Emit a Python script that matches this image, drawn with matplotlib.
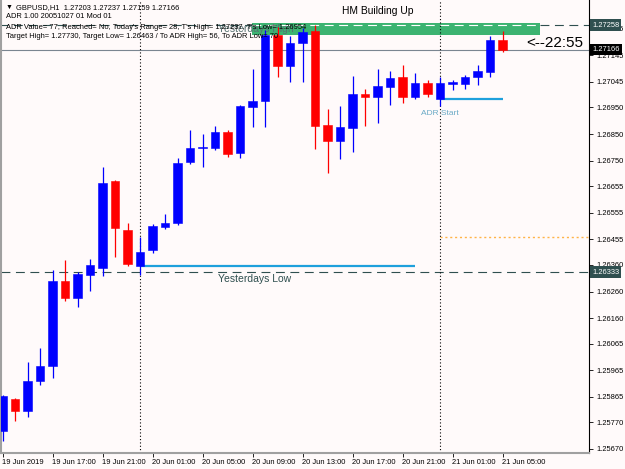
import matplotlib
matplotlib.use('Agg')
import matplotlib.pyplot as plt
from matplotlib.patches import Rectangle

plt.rcParams['font.family'] = ['Liberation Sans', 'DejaVu Sans']

# GBPUSD H1 bars, 19 Jun 13:00 .. 21 Jun 05:00
opens = [1.25736, 1.25856, 1.25811, 1.25924, 1.25980, 1.26299, 1.26235, 1.26321,
         1.26348, 1.26674, 1.26490, 1.26355, 1.26415, 1.26502, 1.26517, 1.26746,
         1.26796, 1.26796, 1.26858, 1.26780, 1.26952, 1.26974, 1.27221, 1.27105,
         1.27190, 1.27236, 1.26884, 1.26824, 1.26874, 1.27000, 1.26988, 1.27027,
         1.27065, 1.26990, 1.27042, 1.26980, 1.27038, 1.27038, 1.27063, 1.27084,
         1.27203]
highs = [1.25871, 1.25860, 1.25995, 1.26048, 1.26340, 1.26378, 1.26333, 1.26381,
         1.26726, 1.26678, 1.26516, 1.26464, 1.26513, 1.26550, 1.26760, 1.26865,
         1.26850, 1.26880, 1.26865, 1.26959, 1.27093, 1.27240, 1.27250, 1.27218,
         1.27246, 1.27258, 1.26943, 1.26955, 1.27068, 1.27018, 1.27093, 1.27086,
         1.27109, 1.27078, 1.27053, 1.27065, 1.27053, 1.27071, 1.27109, 1.27218,
         1.27237]
lows = [1.25699, 1.25774, 1.25789, 1.25909, 1.25935, 1.26224, 1.26201, 1.26261,
        1.26318, 1.26389, 1.26355, 1.26321, 1.26404, 1.26494, 1.26509, 1.26736,
        1.26727, 1.26790, 1.26765, 1.26759, 1.26875, 1.26877, 1.27063, 1.27046,
        1.27046, 1.26793, 1.26703, 1.26755, 1.26784, 1.26880, 1.26890, 1.26959,
        1.26967, 1.26980, 1.26988, 1.26954, 1.27015, 1.27018, 1.27034, 1.27063,
        1.27159]
closes = [1.25868, 1.25811, 1.25924, 1.25980, 1.26299, 1.26235, 1.26325, 1.26359,
          1.26666, 1.26498, 1.26363, 1.26408, 1.26505, 1.26517, 1.26740, 1.26799,
          1.26798, 1.26858, 1.26776, 1.26955, 1.26975, 1.27221, 1.27105, 1.27190,
          1.27231, 1.26881, 1.26824, 1.26877, 1.26999, 1.26988, 1.27030, 1.27059,
          1.26990, 1.27042, 1.27000, 1.27042, 1.27040, 1.27063, 1.27086, 1.27203,
          1.27166]

time_labels = ['19 Jun 2019', '19 Jun 17:00', '19 Jun 21:00', '20 Jun 01:00',
               '20 Jun 05:00', '20 Jun 09:00', '20 Jun 13:00', '20 Jun 17:00',
               '20 Jun 21:00', '21 Jun 01:00', '21 Jun 05:00']
price_ticks = [1.27245, 1.27145, 1.27045, 1.26950, 1.26850, 1.26750, 1.26655,
               1.26555, 1.26455, 1.26360, 1.26260, 1.26160, 1.26065, 1.25965,
               1.25865, 1.25770, 1.25670]

day_starts = [11, 35]          # bars where a new day begins
yest_high = 1.27258
yest_low = 1.26333
bid = 1.27166
zone_low, zone_high = 1.27222, 1.27267
target_low = 1.26463
ylow_line = 1.26357
adr_start = 1.26980

header = ['GBPUSD,H1  1.27203 1.27237 1.27159 1.27166',
          'ADR 1.00 20051027 01 Mod 01',
          "ADR Value= 77, Reached= No, Today's Range= 28, T's High= 1.27237, T's Low= 1.26954",
          'Target High= 1.27730, Target Low= 1.26463 / To ADR High= 56, To ADR Low= 70']

W, H = 625, 469
bg = '#FFFAFA'
fig = plt.figure(figsize=(W / 100, H / 100), dpi=100, facecolor=bg)
ax = fig.add_axes([1 / W, 1 - 453 / H, 588 / W, 453 / H], facecolor=bg)

n = len(opens)
ax.set_xlim(-0.12, 46.92)
ax.set_ylim(1.25655, 1.27352)

# levels
ax.axhspan(zone_low, zone_high, xmin=0, xmax=1, color='none')
ax.add_patch(Rectangle((19.96, zone_low), 43.0 - 19.96, zone_high - zone_low,
                       facecolor='#3CB371', edgecolor='none', zorder=1))
ax.axhline(bid, color='#7a8590', lw=0.8, zorder=1.5)
ax.hlines(yest_high, -1, 19.96, colors='#2F4F4F', linestyles=(0, (8, 5)), lw=0.8, zorder=1.5)
ax.hlines(yest_high, 19.96, 43.0, colors='white', linestyles=(0, (8, 5)), lw=0.8, zorder=1.5)
ax.hlines(yest_high, 43.0, 50, colors='#2F4F4F', linestyles=(0, (8, 5)), lw=0.8, zorder=1.5)
ax.axhline(yest_low, color='#2F4F4F', ls=(0, (8, 5)), lw=0.8, zorder=1.5)
ax.hlines(target_low, day_starts[1], 50, colors='#FFB347', linestyles=(0, (1.5, 2)), lw=1.0, zorder=1.5)
ax.hlines(ylow_line, day_starts[0], 33, colors='#1EA0DC', lw=1.6, zorder=1.5)
ax.hlines(adr_start, day_starts[1], 40, colors='#1EA0DC', lw=1.6, zorder=1.5)
for d in day_starts:
    ax.axvline(d, color='black', ls=(0, (1, 2)), lw=0.8, zorder=1.5)

# candles
bw = 0.66
for i in range(n):
    o, h, l, c = opens[i], highs[i], lows[i], closes[i]
    col = '#0000FF' if c >= o else '#FF0000'
    ax.vlines(i, l, h, colors=col, lw=0.9, zorder=2)
    bot = min(o, c)
    hgt = max(abs(c - o), 0.00005)
    ax.add_patch(Rectangle((i - bw / 2, bot), bw, hgt, facecolor=col,
                           edgecolor=col, lw=0.4, zorder=3))

# texts on chart
ax.text(17.2, 1.26326, 'Yesterdays Low', fontsize=7.5, color='#2F4F4F', va='top', zorder=4)
ax.text(17.2, 1.27242, 'Yesterdays High', fontsize=7.5, color='#557070', va='center', zorder=1.2)
ax.text(33.5, 1.26940, 'ADR Start', fontsize=6, color='#6aaac6', va='top', zorder=4)

def fx(x):
    return x / W

def fy(y):
    return 1 - y / H

fig.text(fx(6), fy(7.3), '\u25bc', fontsize=5, va='center')
fig.text(fx(16), fy(7.3), header[0], fontsize=5.4, va='center')
for k, yy in enumerate([17, 27.5, 36]):
    fig.text(fx(6), fy(yy), header[k + 1], fontsize=5.4, va='center')
fig.text(fx(342), fy(10.7), 'HM Building Up', fontsize=7.4, va='center')
fig.text(fx(526), fy(42.7), '<--22:55', fontsize=11, va='center')

# axes styling
ax.spines['top'].set_visible(False)
ax.spines['left'].set_color('#a0a0a0')
ax.spines['left'].set_linewidth(1.5)
ax.spines['bottom'].set_color('#a0a0a0')
ax.spines['bottom'].set_linewidth(1.5)
ax.spines['right'].set_color('black')
ax.spines['right'].set_linewidth(0.8)

ax.yaxis.tick_right()
ax.set_yticks(price_ticks)
ax.set_yticklabels(['%.5f' % p for p in price_ticks])
ax.tick_params(axis='y', length=3, pad=2, labelsize=5.4, width=0.6)
ax.set_xticks(range(0, n, 4))
ax.set_xticklabels(time_labels)
ax.tick_params(axis='x', length=3, pad=1.5, labelsize=5.4, width=0.6)
for lbl in ax.get_xticklabels():
    lbl.set_ha('left')

# highlighted price labels
ytr = ax.get_yaxis_transform()
for val, fc in [(yest_high, '#2F4F4F'), (bid, 'black'), (yest_low, '#2F4F4F')]:
    ax.text(1.005, val, '%.5f' % val, transform=ytr, fontsize=5.4, color='white',
            va='center', ha='left', clip_on=False, zorder=6,
            bbox=dict(boxstyle='square,pad=0.3', fc=fc, ec='none'))

fig.savefig('out.png', dpi=100, facecolor=bg)
